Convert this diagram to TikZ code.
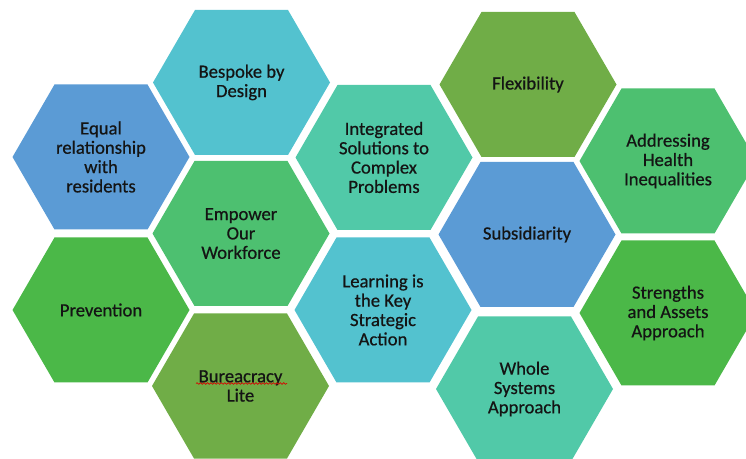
\documentclass[tikz,border=0pt]{standalone}
\usepackage{fontspec}
\setmainfont{Carlito}
\newfontfamily\hexfont{Carlito}[FakeBold=0.6]
\usetikzlibrary{decorations.pathmorphing}

\definecolor{hexblue}{HTML}{5B9BD5}
\definecolor{hexteal}{HTML}{53C2CF}
\definecolor{hexsea}{HTML}{51C9A8}
\definecolor{hexgreen}{HTML}{4DC070}
\definecolor{hexlime}{HTML}{4BB848}
\definecolor{hexolive}{HTML}{70AD47}
\definecolor{hextext}{HTML}{141414}

\begin{document}
\begin{tikzpicture}[x=0.75pt,y=-0.75pt,
  hexlabel/.style={align=center,inner sep=0pt,text=hextext,
    font=\hexfont\fontsize{14}{14.5}\selectfont},
  squiggle/.style={draw=red!85!black,line width=0.5pt,decorate,
    decoration={snake,amplitude=0.6pt,segment length=2.6pt}}]
\useasboundingbox (0,0) rectangle (746,459);
% honeycomb: name / x / y / fill / label
\foreach \n/\x/\y/\c/\t in {%
  equal/101/157/hexblue/{Equal\\relationship\\with\\residents},
  prevention/101/310/hexlime/{Prevention},
  bespoke/241.5/82.5/hexteal/{Bespoke by\\Design},
  empower/241/233.5/hexgreen/{Empower\\Our\\Workforce},
  bureau/240.5/386/hexolive/{Bureacracy\\Lite},
  integrated/384/157.5/hexsea/{Integrated\\Solutions to\\Complex\\Problems},
  learning/383/310/hexteal/{Learning is\\the Key\\Strategic\\Action},
  flexibility/528/84.5/hexolive/{Flexibility},
  subsidiarity/527/234.5/hexblue/{Subsidiarity},
  whole/524.5/389/hexsea/{Whole\\Systems\\Approach},
  addressing/668/161/hexgreen/{Addressing\\Health\\Inequalities},
  strengths/668/313/hexlime/{Strengths\\and Assets\\Approach}%
}{
  \fill[\c] (\x,\y) +(-88.5,0) -- +(-46.5,-72.5) -- +(46.5,-72.5)
    -- +(88.5,0) -- +(46.5,72.5) -- +(-46.5,72.5) -- cycle;
  \node[hexlabel] (\n) at (\x,\y) {\t};
}
% spell-check mark under the first word
\draw[squiggle] ([shift={(-44.5,-2.5)}]bureau.center) -- ++(91,0);
\end{tikzpicture}
\end{document}
